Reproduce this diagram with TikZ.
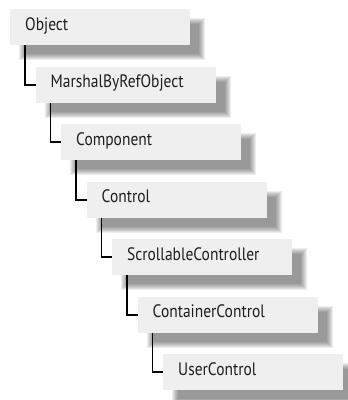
\documentclass[tikz,border=0pt]{standalone}
\usepackage{fontspec}
\setmainfont[FakeStretch=0.86]{PT Sans}
\usetikzlibrary{calc,backgrounds}
\definecolor{boxfill}{HTML}{EFEFEF}
\definecolor{txt}{HTML}{1E1E1E}
\tikzset{
  classbox/.style={anchor=north west, fill=boxfill, minimum height=36pt,
    text width=150pt, inner xsep=15pt, inner ysep=0pt, align=left,
    text height=21pt, text depth=15pt,
    font=\fontsize{18}{20}\selectfont, text=txt},
  link/.style={draw=black, line width=1.8pt}
}
\newcommand{\boxshadow}[1]{%
  \foreach \d in {3,2,1,0,-1,-2,-3}{%
    \fill[black,opacity=0.07] ($(#1.north west)+(12-\d,12-\d)$) rectangle ($(#1.south east)+(12+\d,12+\d)$);
  }%
}
\begin{document}
\begin{tikzpicture}[x=1pt,y=-1pt]
\useasboundingbox (0,0) rectangle (348,400);
\path
  node[classbox] (b0) at (10,9) {Object}
  node[classbox] (b1) at (35.5,66.5) {MarshalByRefObject}
  node[classbox] (b2) at (61,124) {Component}
  node[classbox] (b3) at (86.5,181.5) {Control}
  node[classbox] (b4) at (112,239) {ScrollableController}
  node[classbox] (b5) at (137.5,296.5) {ContainerControl}
  node[classbox] (b6) at (163,354) {UserControl};
\begin{pgfonlayer}{background}
  \foreach \n in {b0,b1,b2,b3,b4,b5,b6}{\boxshadow{\n}}
\end{pgfonlayer}
\foreach \a/\b in {b0/b1,b1/b2,b2/b3,b3/b4,b4/b5,b5/b6}{
  \draw[link] ([xshift=15pt]\a.south west) |- (\b.west);
}
\end{tikzpicture}
\end{document}
